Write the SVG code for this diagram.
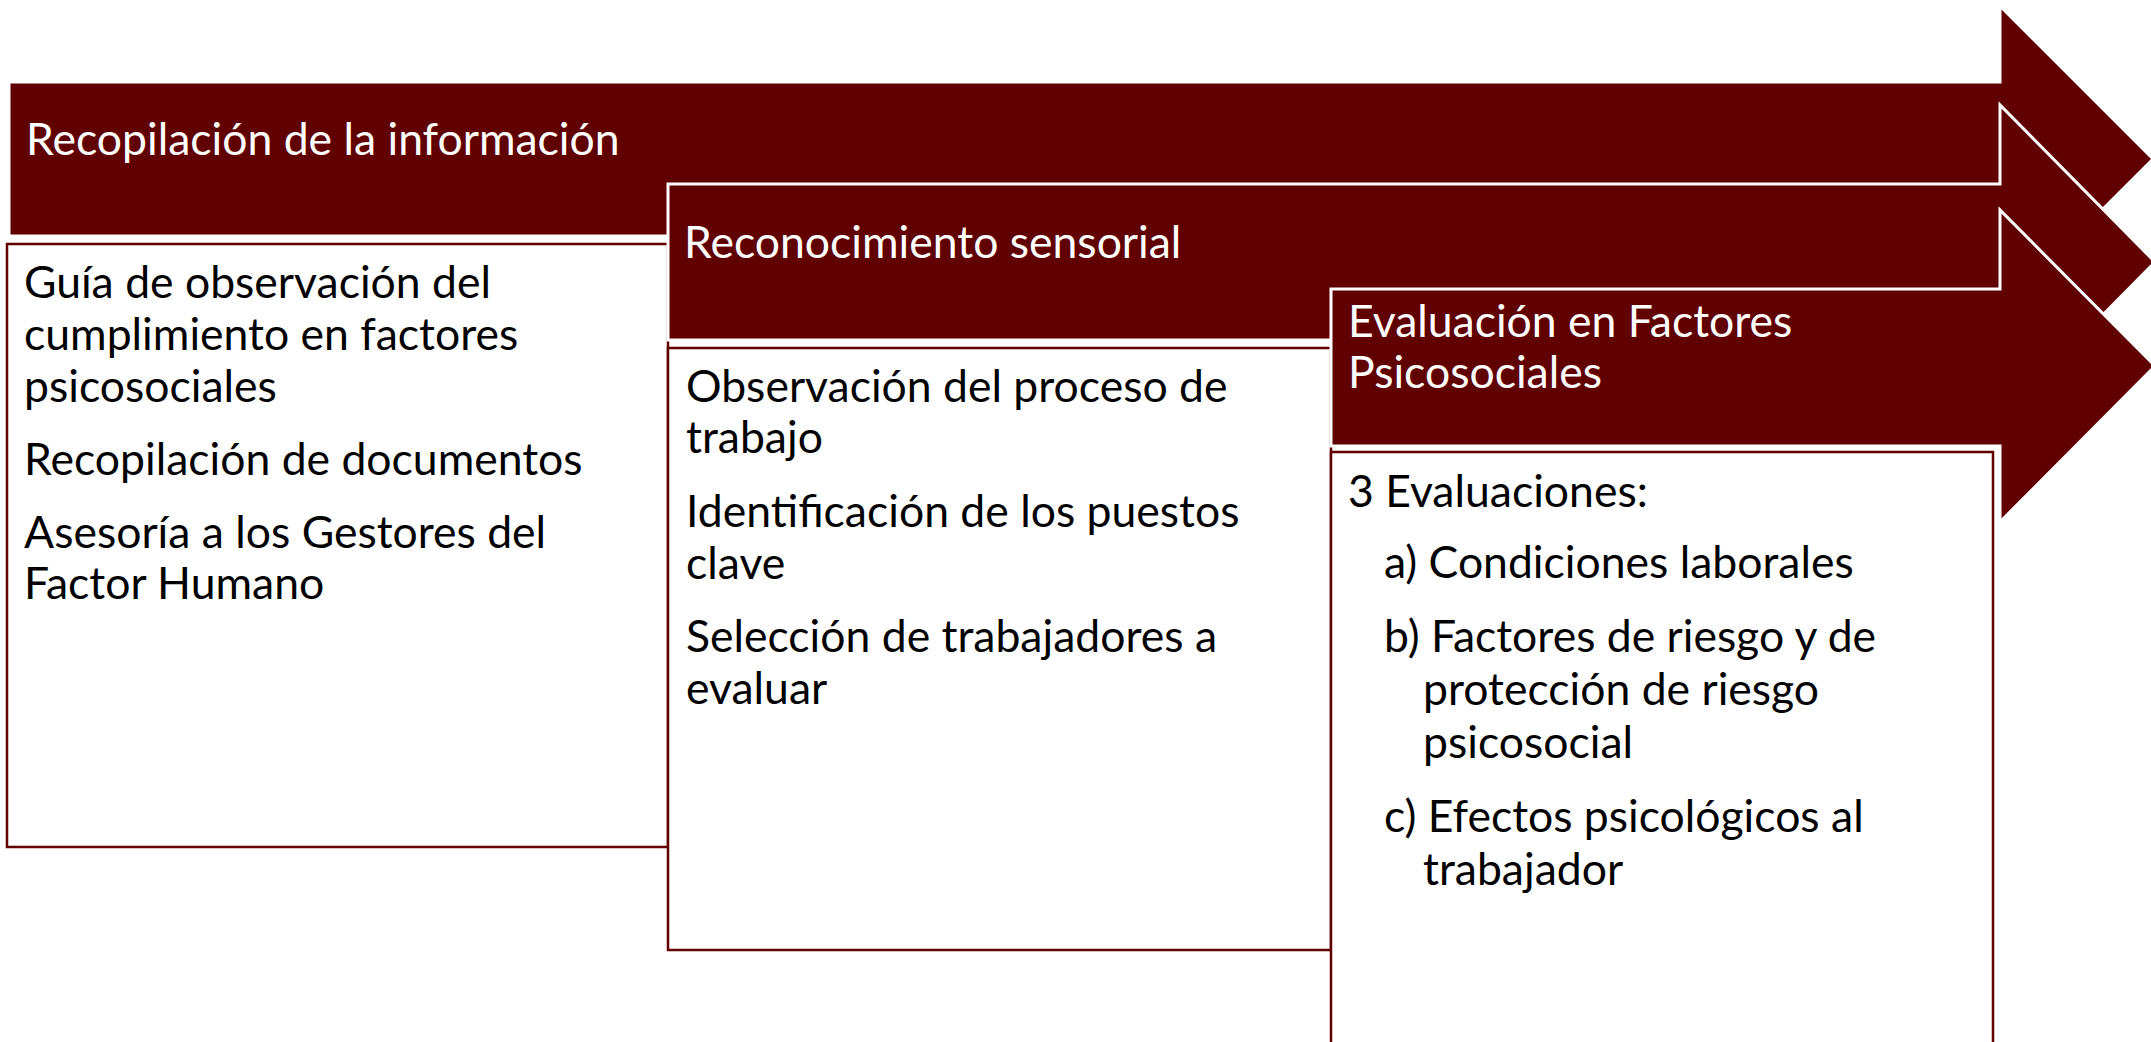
<svg xmlns="http://www.w3.org/2000/svg" width="2151" height="1042" viewBox="0 0 2151 1042">
<style>
.arrow{fill:#600000;stroke:#ffffff;stroke-width:3}
.box{fill:#ffffff;stroke:#600000;stroke-width:2.5}
.t{font-family:Lato,"Liberation Sans",sans-serif;font-size:44.5px}
.w{fill:#ffffff}
.k{fill:#000000}
</style>
<rect width="2151" height="1042" fill="#ffffff"/>
<g id="connectors"/>
<g id="step1-header">
<path class="arrow" d="M9,82 H2000 V6 L2153,159 L2000,312 V236 H9 Z"/>
<text class="t w" x="26" y="155">Recopilación de la información</text>
</g>
<g id="step1-body">
<rect class="box" x="7" y="244" width="661" height="603"/>
<text class="t k" x="24" y="298">Guía de observación del</text>
<text class="t k" x="24" y="350">cumplimiento en factores</text>
<text class="t k" x="24" y="402">psicosociales</text>
<text class="t k" x="24" y="475">Recopilación de documentos</text>
<text class="t k" x="24" y="548">Asesoría a los Gestores del</text>
<text class="t k" x="24" y="599">Factor Humano</text>
</g>
<g id="step2-header">
<path class="arrow" d="M668,184 H2000 V105 L2155,262 L2000,419 V340 H668 Z"/>
<text class="t w" x="684" y="258">Reconocimiento sensorial</text>
</g>
<g id="step2-body">
<rect class="box" x="668" y="348" width="663" height="602"/>
<text class="t k" x="686" y="402">Observación del proceso de</text>
<text class="t k" x="686" y="453">trabajo</text>
<text class="t k" x="686" y="527">Identificación de los puestos</text>
<text class="t k" x="686" y="579">clave</text>
<text class="t k" x="686" y="652">Selección de trabajadores a</text>
<text class="t k" x="686" y="704">evaluar</text>
</g>
<g id="step3-header">
<path class="arrow" d="M1331,289 H2000 V210 L2155,366 L2000,522 V446 H1331 Z"/>
<text class="t w" x="1348" y="337">Evaluación en Factores</text>
<text class="t w" x="1348" y="388">Psicosociales</text>
</g>
<g id="step3-body">
<rect class="box" x="1331" y="452" width="662" height="620"/>
<text class="t k" x="1348" y="507">3 Evaluaciones:</text>
<text class="t k" x="1384" y="578">a) Condiciones laborales</text>
<text class="t k" x="1384" y="652">b) Factores de riesgo y de</text>
<text class="t k" x="1423" y="705">protección de riesgo</text>
<text class="t k" x="1423" y="758">psicosocial</text>
<text class="t k" x="1384" y="832">c) Efectos psicológicos al</text>
<text class="t k" x="1423" y="885">trabajador</text>
</g>
</svg>
